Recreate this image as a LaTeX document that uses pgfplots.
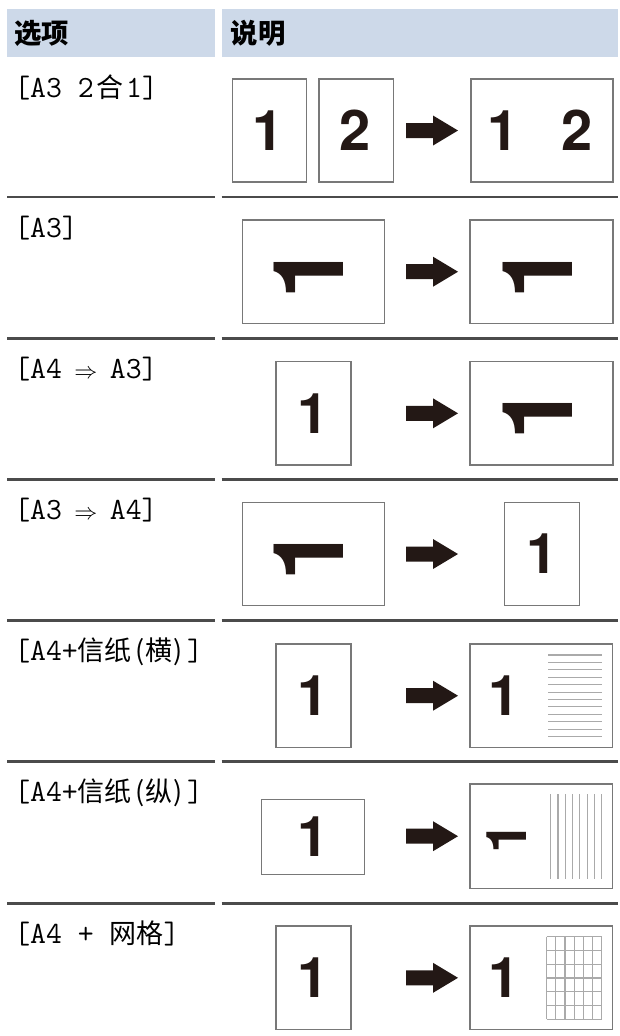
\documentclass[border=0pt]{standalone}
\usepackage{fontspec}
\usepackage{graphicx}
\usepackage{pgfplots}
\pgfplotsset{compat=1.18}
\newfontfamily\cjkf{Noto Sans CJK SC}
\newfontfamily\rotf{TeX Gyre Heros}
\definecolor{hdr}{RGB}{205,217,233}
\definecolor{rule}{RGB}{75,75,75}
\definecolor{boxc}{RGB}{120,120,120}
\definecolor{ink}{RGB}{35,24,21}
\definecolor{pline}{RGB}{170,170,170}
\newcommand\m[1]{{\ttfamily\fontsize{23.14}{26}\selectfont #1}}
\newcommand\cj[1]{{\cjkf\fontsize{20.25}{26}\selectfont #1}}
\newcommand\ar{\makebox[12.15pt][c]{\fontsize{18}{18}\selectfont$\Rightarrow$}}
\newcommand\digA{\rotf\bfseries\fontsize{42}{42}\selectfont}
\newcommand\rfB{\rotf\bfseries\fontsize{73.5}{73.5}\selectfont}
\newcommand\rotA{\rotatebox{90}{\digA 1}}
\newcommand\rotB{\rotatebox{90}{\rfB 1}}
\begin{document}
\begin{tikzpicture}
\begin{axis}[
  width=463.5pt, height=777pt, scale only axis,
  xmin=0, xmax=618, ymin=0, ymax=1036, y dir=reverse,
  enlargelimits=false, hide axis, clip=false,
  every axis plot/.append style={mark=none},
  bx/.style={draw=boxc, line width=1.1pt, fill=white},
  rl/.style={draw=rule, line width=1.9pt},
  pl/.style={draw=pline, line width=0.8pt},
  arw/.style={fill=ink, draw=none},
]
% background
\addplot[fill=white, draw=none] coordinates {(0,0)(618,0)(618,1036)(0,1036)} --cycle;
% header
\addplot[fill=hdr, draw=none] coordinates {(7,9)(215,9)(215,57)(7,57)} --cycle;
\addplot[fill=hdr, draw=none] coordinates {(221.7,9)(618,9)(618,57)(221.7,57)} --cycle;
\node[anchor=base west, inner sep=0] at (axis cs:14,43) {\cjkf\bfseries\fontsize{20.5}{24}\selectfont 选项};
\node[anchor=base west, inner sep=0] at (axis cs:230.5,43) {\cjkf\bfseries\fontsize{20.5}{24}\selectfont 说明};
% row rules
\addplot[rl] coordinates {(7,197)(214.5,197)};
\addplot[rl] coordinates {(221.7,197)(618,197)};
\addplot[rl] coordinates {(7,338.3)(214.5,338.3)};
\addplot[rl] coordinates {(221.7,338.3)(618,338.3)};
\addplot[rl] coordinates {(7,479.3)(214.5,479.3)};
\addplot[rl] coordinates {(221.7,479.3)(618,479.3)};
\addplot[rl] coordinates {(7,620.7)(214.5,620.7)};
\addplot[rl] coordinates {(221.7,620.7)(618,620.7)};
\addplot[rl] coordinates {(7,761.7)(214.5,761.7)};
\addplot[rl] coordinates {(221.7,761.7)(618,761.7)};
\addplot[rl] coordinates {(7,903.3)(214.5,903.3)};
\addplot[rl] coordinates {(221.7,903.3)(618,903.3)};
% option labels
\node[anchor=base west, inner sep=0] at (axis cs:14,97) {\m{[A3 2}\makebox[24.3pt][c]{\cj{合}}\m{1]}};
\node[anchor=base west, inner sep=0] at (axis cs:14,237) {\m{[A3]}};
\node[anchor=base west, inner sep=0] at (axis cs:14,378.3) {\m{[A4 }\ar\m{ A3]}};
\node[anchor=base west, inner sep=0] at (axis cs:14,519.3) {\m{[A3 }\ar\m{ A4]}};
\node[anchor=base west, inner sep=0] at (axis cs:14,660.7) {\m{[A4+}\cj{信纸\hspace{2.5pt}(\hspace{1pt}横\hspace{1pt})\hspace{3pt}}\m{]}};
\node[anchor=base west, inner sep=0] at (axis cs:14,801.7) {\m{[A4+}\cj{信纸\hspace{2.5pt}(\hspace{1pt}纵\hspace{1pt})\hspace{3pt}}\m{]}};
\node[anchor=base west, inner sep=0] at (axis cs:14,943.3) {\m{[A4 + }\cj{网格}\m{]}};
% row 1
\addplot[bx] coordinates {(232.6,79)(306.7,79)(306.7,182)(232.6,182)} --cycle;
\addplot[bx] coordinates {(319,79)(393.4,79)(393.4,182)(319,182)} --cycle;
\addplot[bx] coordinates {(471,79)(613,79)(613,182)(471,182)} --cycle;
\addplot[arw] coordinates {(406,123)(433,123)(433,115.5)(458,130.5)(433,145.5)(433,138)(406,138)} --cycle;
\node[inner sep=0, text=ink] at (axis cs:268.1,130.5) {\digA 1};
\node[inner sep=0, text=ink] at (axis cs:355.5,130.5) {\digA 2};
\node[inner sep=0, text=ink] at (axis cs:503.3,130.5) {\digA 1};
\node[inner sep=0, text=ink] at (axis cs:577.3,130.5) {\digA 2};
% row 2
\addplot[bx] coordinates {(242.4,220)(384.3,220)(384.3,323.3)(242.4,323.3)} --cycle;
\addplot[bx] coordinates {(470.2,220)(613,220)(613,323.3)(470.2,323.3)} --cycle;
\addplot[arw] coordinates {(406,264.2)(433,264.2)(433,256.7)(458,271.7)(433,286.7)(433,279.2)(406,279.2)} --cycle;
\node[inner sep=0, text=ink] at (axis cs:309,272.1) {\rotB};
\node[inner sep=0, text=ink] at (axis cs:537.5,272.1) {\rotB};
% row 3
\addplot[bx] coordinates {(276,361.7)(350.8,361.7)(350.8,465)(276,465)} --cycle;
\addplot[bx] coordinates {(470.2,361.7)(613,361.7)(613,465)(470.2,465)} --cycle;
\addplot[arw] coordinates {(406,405.8)(433,405.8)(433,398.3)(458,413.3)(433,428.3)(433,420.8)(406,420.8)} --cycle;
\node[inner sep=0, text=ink] at (axis cs:313.4,413.3) {\digA 1};
\node[inner sep=0, text=ink] at (axis cs:537.5,413.5) {\rotB};
% row 4
\addplot[bx] coordinates {(242.4,502.3)(384.3,502.3)(384.3,605.7)(242.4,605.7)} --cycle;
\addplot[bx] coordinates {(504.5,502.3)(579.4,502.3)(579.4,605.7)(504.5,605.7)} --cycle;
\addplot[arw] coordinates {(406,546.5)(433,546.5)(433,539)(458,554)(433,569)(433,561.5)(406,561.5)} --cycle;
\node[inner sep=0, text=ink] at (axis cs:309,554.6) {\rotB};
\node[inner sep=0, text=ink] at (axis cs:542.1,554) {\digA 1};
% row 5
\addplot[bx] coordinates {(276,644)(350.8,644)(350.8,747.3)(276,747.3)} --cycle;
\addplot[bx] coordinates {(470,644)(612.7,644)(612.7,747.3)(470,747.3)} --cycle;
\addplot[arw] coordinates {(406,688.2)(433,688.2)(433,680.7)(458,695.7)(433,710.7)(433,703.2)(406,703.2)} --cycle;
\node[inner sep=0, text=ink] at (axis cs:313.4,695.7) {\digA 1};
\node[inner sep=0, text=ink] at (axis cs:503.8,695.7) {\digA 1};
\addplot[pl] coordinates {(548,655)(601.5,655)};
\addplot[pl] coordinates {(548,662.4)(601.5,662.4)};
\addplot[pl] coordinates {(548,669.8)(601.5,669.8)};
\addplot[pl] coordinates {(548,677.3)(601.5,677.3)};
\addplot[pl] coordinates {(548,684.7)(601.5,684.7)};
\addplot[pl] coordinates {(548,692.1)(601.5,692.1)};
\addplot[pl] coordinates {(548,699.5)(601.5,699.5)};
\addplot[pl] coordinates {(548,706.9)(601.5,706.9)};
\addplot[pl] coordinates {(548,714.4)(601.5,714.4)};
\addplot[pl] coordinates {(548,721.8)(601.5,721.8)};
\addplot[pl] coordinates {(548,729.2)(601.5,729.2)};
\addplot[pl] coordinates {(548,736.6)(601.5,736.6)};
% row 6
\addplot[bx] coordinates {(261.3,799.3)(364.6,799.3)(364.6,874.3)(261.3,874.3)} --cycle;
\addplot[bx] coordinates {(470,784)(612.7,784)(612.7,888.3)(470,888.3)} --cycle;
\addplot[arw] coordinates {(406,828.7)(433,828.7)(433,821.2)(458,836.2)(433,851.2)(433,843.7)(406,843.7)} --cycle;
\node[inner sep=0, text=ink] at (axis cs:313.4,837) {\digA 1};
\node[inner sep=0, text=ink] at (axis cs:506.7,838.1) {\rotA};
\addplot[pl] coordinates {(550.7,794)(550.7,879.3)};
\addplot[pl] coordinates {(558.0,794)(558.0,879.3)};
\addplot[pl] coordinates {(565.3,794)(565.3,879.3)};
\addplot[pl] coordinates {(572.6,794)(572.6,879.3)};
\addplot[pl] coordinates {(579.9,794)(579.9,879.3)};
\addplot[pl] coordinates {(587.2,794)(587.2,879.3)};
\addplot[pl] coordinates {(594.4,794)(594.4,879.3)};
\addplot[pl] coordinates {(601.7,794)(601.7,879.3)};
% row 7
\addplot[bx] coordinates {(276,926)(350.8,926)(350.8,1029.5)(276,1029.5)} --cycle;
\addplot[bx] coordinates {(470,926)(612.7,926)(612.7,1029.5)(470,1029.5)} --cycle;
\addplot[arw] coordinates {(406,970.3)(433,970.3)(433,962.8)(458,977.8)(433,992.8)(433,985.3)(406,985.3)} --cycle;
\node[inner sep=0, text=ink] at (axis cs:313.4,978) {\digA 1};
\node[inner sep=0, text=ink] at (axis cs:503.8,978) {\digA 1};
\addplot[pl] coordinates {(546.7,936.7)(546.7,1019.3)};
\addplot[pl] coordinates {(555.9,936.7)(555.9,1019.3)};
\addplot[pl] coordinates {(565.0,936.7)(565.0,1019.3)};
\addplot[pl] coordinates {(574.2,936.7)(574.2,1019.3)};
\addplot[pl] coordinates {(583.4,936.7)(583.4,1019.3)};
\addplot[pl] coordinates {(592.5,936.7)(592.5,1019.3)};
\addplot[pl] coordinates {(601.7,936.7)(601.7,1019.3)};
\addplot[pl] coordinates {(546.7,936.7)(601.7,936.7)};
\addplot[pl] coordinates {(546.7,950.5)(601.7,950.5)};
\addplot[pl] coordinates {(546.7,964.2)(601.7,964.2)};
\addplot[pl] coordinates {(546.7,978.0)(601.7,978.0)};
\addplot[pl] coordinates {(546.7,991.8)(601.7,991.8)};
\addplot[pl] coordinates {(546.7,1005.5)(601.7,1005.5)};
\addplot[pl] coordinates {(546.7,1019.3)(601.7,1019.3)};
\end{axis}
\end{tikzpicture}
\end{document}
